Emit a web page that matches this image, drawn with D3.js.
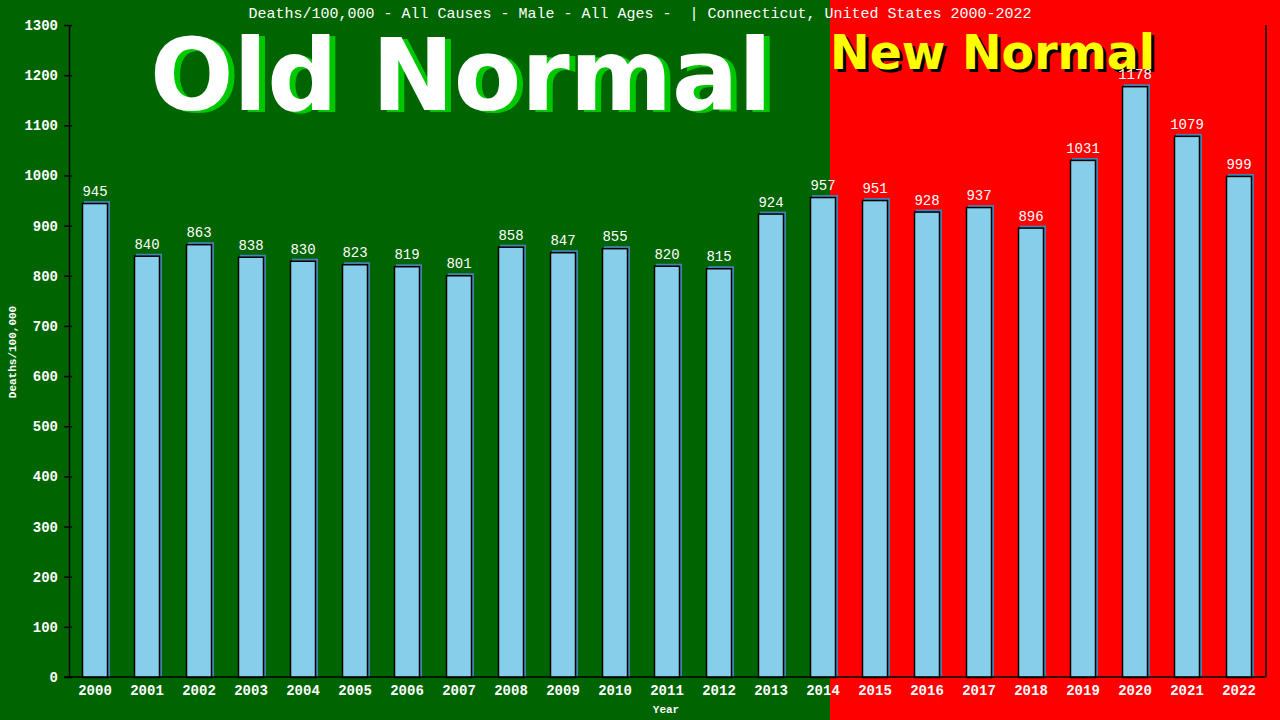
<!DOCTYPE html>
<html>
<head>
<meta charset="utf-8">
<script src="https://cdn.jsdelivr.net/npm/d3@7"></script>
<style>
  body { margin: 0; background: #006400; }
  svg { display: block; }
</style>
</head>
<body>
<div class="chart"></div>
<script>
const years = ['2000','2001','2002','2003','2004','2005','2006','2007','2008','2009','2010','2011',
  '2012','2013','2014','2015','2016','2017','2018','2019','2020','2021','2022']
const deaths = [945, 840, 863, 838, 830, 823, 819, 801, 858, 847, 855, 820, 815, 924, 957, 951, 928, 937, 896, 1031, 1178, 1079, 999]
const yTicks = [0, 100, 200, 300, 400, 500, 600, 700, 800, 900, 1000, 1100, 1200, 1300]
const title = 'Deaths/100,000 - All Causes - Male - All Ages -  | Connecticut, United States 2000-2022'

const width = 1280, height = 720
const plotLeft = 69, plotRight = 1265, plotTop = 25, plotBottom = 677
const mono = '"Liberation Mono", "DejaVu Sans Mono", monospace'

const svg = d3.select('.chart')
  .append('svg')
  .attr('width', width)
  .attr('height', height)

const x = d3.scaleBand()
  .domain(years)
  .range([plotLeft, plotRight])
  .paddingInner(0.5)
  .paddingOuter(0.25)

const y = d3.scaleLinear()
  .domain([0, 1300])
  .range([plotBottom, plotTop])

// background: green old normal, red new normal
const split = x('2014') + x.bandwidth() * 0.77
svg.append('rect').attr('x', 0).attr('y', 0).attr('width', width).attr('height', height).attr('fill', '#006400')
svg.append('rect').attr('x', split).attr('y', 0).attr('width', width - split).attr('height', height).attr('fill', '#ff0000')

// big labels
const bold = '"DejaVu Sans", Verdana, sans-serif'
svg.append('text').attr('x', 156).attr('y', 112).text('Old Normal')
  .attr('font-family', bold).attr('font-weight', 'bold').attr('font-size', 100)
  .attr('textLength', 622).attr('lengthAdjust', 'spacingAndGlyphs')
  .attr('fill', '#00c800')
svg.append('text').attr('x', 150).attr('y', 110).text('Old Normal')
  .attr('font-family', bold).attr('font-weight', 'bold').attr('font-size', 100)
  .attr('textLength', 622).attr('lengthAdjust', 'spacingAndGlyphs')
  .attr('fill', '#ffffff')
svg.append('text').attr('x', split + 3).attr('y', 72).text('New Normal')
  .attr('font-family', bold).attr('font-weight', 'bold').attr('font-size', 48)
  .attr('textLength', 325).attr('lengthAdjust', 'spacingAndGlyphs')
  .attr('fill', '#000000')
svg.append('text').attr('x', split).attr('y', 69).text('New Normal')
  .attr('font-family', bold).attr('font-weight', 'bold').attr('font-size', 48)
  .attr('textLength', 325).attr('lengthAdjust', 'spacingAndGlyphs')
  .attr('fill', '#ffff00')

// title
svg.append('text').attr('x', 640).attr('y', 18).text(title)
  .attr('text-anchor', 'middle').attr('font-family', mono).attr('font-size', 15)
  .attr('fill', '#fff').style('white-space', 'pre')

// bars
const bars = svg.append('g').selectAll('g')
  .data(years.map((d, i) => ({ year: d, value: deaths[i] })))
  .join('g')

bars.append('rect')
  .attr('x', d => x(d.year) + 2)
  .attr('y', d => y(d.value) - 2)
  .attr('width', x.bandwidth())
  .attr('height', d => plotBottom - y(d.value) + 2)
  .attr('fill', '#4682b4')

bars.append('rect')
  .attr('x', d => x(d.year) + 0.5)
  .attr('y', d => y(d.value) + 0.5)
  .attr('width', x.bandwidth() - 1)
  .attr('height', d => plotBottom - y(d.value))
  .attr('fill', '#87ceeb')
  .attr('stroke', '#000')
  .attr('stroke-width', 1.5)

bars.append('text')
  .attr('x', d => x(d.year) + x.bandwidth() / 2)
  .attr('y', d => y(d.value) - 7)
  .attr('text-anchor', 'middle')
  .attr('font-family', mono).attr('font-size', 14)
  .attr('fill', '#fff')
  .text(d => d.value)

// axes
const yAxis = svg.append('g')
  .attr('transform', `translate(${plotLeft},0)`)
  .call(d3.axisLeft(y).tickValues(yTicks).tickFormat(d3.format('d')).tickSize(5).tickPadding(6).tickSizeOuter(0))
yAxis.selectAll('.tick line').attr('x2', -5).attr('x1', 3)
yAxis.select('.domain').attr('stroke', '#000').attr('stroke-width', 1.5)

const xAxis = svg.append('g')
  .attr('transform', `translate(0,${plotBottom})`)
  .call(d3.axisBottom(x).tickSize(0).tickPadding(8))
xAxis.select('.domain').remove()
svg.append('line').attr('x1', plotLeft - 5).attr('x2', plotRight + 1).attr('y1', plotBottom).attr('y2', plotBottom)
  .attr('stroke', '#000').attr('stroke-width', 1.5)
svg.append('line').attr('x1', plotRight + 1).attr('x2', plotRight + 1).attr('y1', plotTop).attr('y2', plotBottom)
  .attr('stroke', '#000').attr('stroke-width', 1.5)

svg.selectAll('.tick line').attr('stroke', '#000').attr('stroke-width', 1.5)
svg.selectAll('.tick text')
  .attr('fill', '#fff').attr('font-family', mono).attr('font-size', 14).attr('font-weight', 'bold')

// axis titles
svg.append('text').attr('x', 666).attr('y', 713).text('Year')
  .attr('text-anchor', 'middle').attr('font-family', mono).attr('font-size', 11)
  .attr('font-weight', 'bold').attr('fill', '#fff')
svg.append('text').attr('transform', 'translate(16,352) rotate(-90)').text('Deaths/100,000')
  .attr('text-anchor', 'middle').attr('font-family', mono).attr('font-size', 11)
  .attr('font-weight', 'bold').attr('fill', '#fff')
</script>
</body>
</html>
